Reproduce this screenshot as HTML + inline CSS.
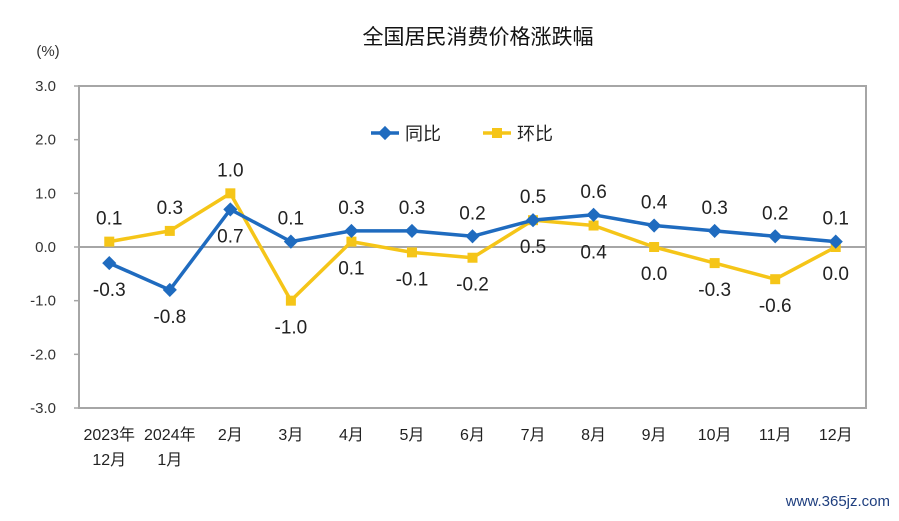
<!DOCTYPE html>
<html><head><meta charset="utf-8"><style>
html,body{margin:0;padding:0;background:#fff;}
svg text{font-family:"Liberation Sans","Noto Sans CJK SC",sans-serif;}
</style></head><body>
<svg width="899" height="516" viewBox="0 0 899 516" xmlns="http://www.w3.org/2000/svg" id="chart">
<text x="478" y="44" font-size="21" text-anchor="middle" fill="#111">全国居民消费价格涨跌幅</text>
<text x="48" y="56" font-size="15" text-anchor="middle" fill="#333">(%)</text>
<rect x="79" y="86" width="787" height="322" fill="none" stroke="#a6a6a6" stroke-width="2"/>
<g id="yaxis"></g>
<g id="xaxis"></g>
<g id="series"></g>
<g>
<g>
<line x1="371" y1="133" x2="399" y2="133" stroke="#1f6bbf" stroke-width="3.5"/>
<rect x="380" y="128" width="10" height="10" fill="#1f6bbf" transform="rotate(45 385 133)"/>
<text x="405" y="140" font-size="18" fill="#222">同比</text>
</g>
<g>
<line x1="483" y1="133" x2="511" y2="133" stroke="#f5c518" stroke-width="3.5"/>
<rect x="492" y="128" width="10" height="10" fill="#f5c518"/>
<text x="517" y="140" font-size="18" fill="#222">环比</text>
</g>
</g>
<text x="890" y="506" font-size="15" text-anchor="end" fill="#1f3f7f" font-family="Liberation Serif,serif">www.365jz.com</text>
</svg>
<script>
const categories=[["2023年","12月"],["2024年","1月"],["2月"],["3月"],["4月"],["5月"],["6月"],["7月"],["8月"],["9月"],["10月"],["11月"],["12月"]];
const yoyValues=[-0.3,-0.8,0.7,0.1,0.3,0.3,0.2,0.5,0.6,0.4,0.3,0.2,0.1];
const momValues=[0.1,0.3,1.0,-1.0,0.1,-0.1,-0.2,0.5,0.4,0.0,-0.3,-0.6,0.0];
const yTicks=[3,2,1,0,-1,-2,-3];
const yoyLabelPos=["below","below","below","above","above","above","above","above","above","above","above","above","above"];
const momLabelPos=["above","above","above","below","below","below","below","below","below","below","below","below","below"];

const NS="http://www.w3.org/2000/svg";
const L=79,R=866,T=86,B=408,YMAX=3,YMIN=-3;
const band=(R-L)/categories.length;
const xS=i=>L+band*(i+0.5);
const yS=v=>T+(YMAX-v)/(YMAX-YMIN)*(B-T);
function mk(tag,attrs,parent){const e=document.createElementNS(NS,tag);for(const k in attrs)e.setAttribute(k,attrs[k]);parent.appendChild(e);return e;}
const yg=document.getElementById('yaxis'),xg=document.getElementById('xaxis'),sg=document.getElementById('series');
yTicks.forEach(v=>{
  const t=mk('text',{x:56,y:yS(v)+5,'font-size':15,'text-anchor':'end',fill:'#333'},yg);
  
  
  t.textContent=v.toFixed(1);
  const tk=mk('line',{x1:L-5,x2:L,y1:yS(v),y2:yS(v),stroke:'#a6a6a6','stroke-width':1.5},yg);
  
  
});
const zl=mk('line',{x1:L,x2:R,y1:yS(0),y2:yS(0),stroke:'#a6a6a6','stroke-width':2},yg);


categories.forEach((c,i)=>{
  c.forEach((s,j)=>{
    const t=mk('text',{x:xS(i),y:440+j*25,'font-size':16,'text-anchor':'middle',fill:'#222'},xg);
    
    
    t.textContent=s;
  });
});
function drawSeries(vals,color,shape,pos,name){
  const pts=vals.map((v,i)=>xS(i)+','+yS(v)).join(' ');
  const pl=mk('polyline',{points:pts,fill:'none',stroke:color,'stroke-width':3.5,'stroke-linejoin':'round'},sg);
  
  
  vals.forEach((v,i)=>{
    const x=xS(i),y=yS(v);
    const m=mk('rect',{x:x-5,y:y-5,width:10,height:10,fill:color},sg);
    if(shape==='diamond')m.setAttribute('transform','rotate(45 '+x+' '+y+')');
    
    
    const ly=pos[i]==='above'?y-17:y+33;
    const t=mk('text',{x:x,y:ly,'font-size':19,'text-anchor':'middle',fill:'#222'},sg);
    
    
    t.textContent=v.toFixed(1);
  });
}
drawSeries(momValues,'#f5c518','square',momLabelPos,'mom');
drawSeries(yoyValues,'#1f6bbf','diamond',yoyLabelPos,'yoy');
</script>
</body></html>
